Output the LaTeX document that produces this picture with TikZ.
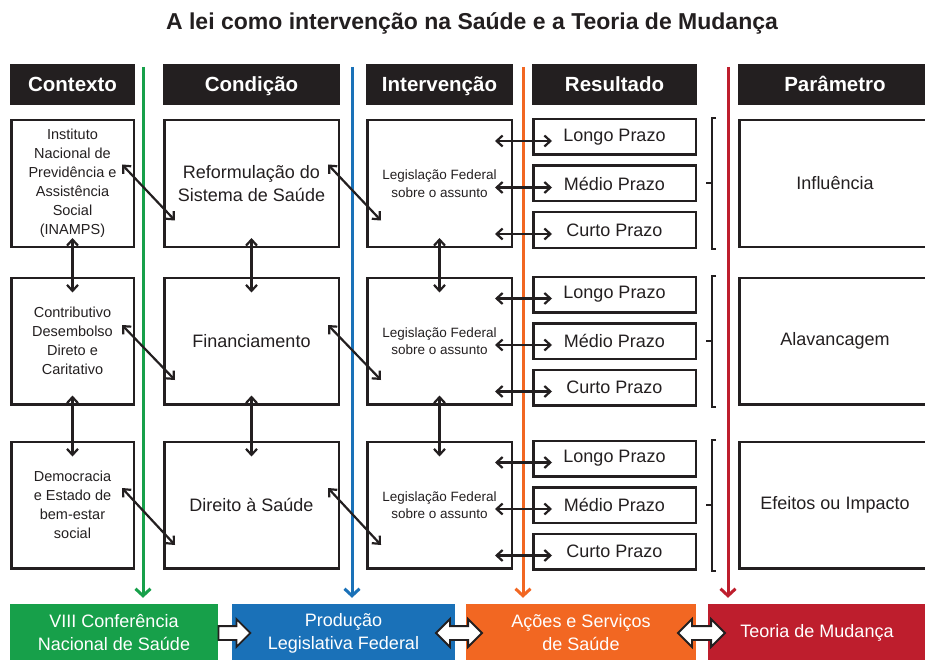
\documentclass[tikz,border=0pt]{standalone}
\usepackage{fontspec}
\setmainfont{Liberation Sans}
\usetikzlibrary{arrows.meta,calc,shapes.arrows}
\definecolor{barblack}{HTML}{231F20}
\definecolor{cgreen}{HTML}{17A04A}
\definecolor{cblue}{HTML}{1A71B8}
\definecolor{corange}{HTML}{F26722}
\definecolor{cred}{HTML}{BE1E2D}

\begin{document}
\begin{tikzpicture}[x=1pt,y=-1pt,>={Straight Barb[length=6pt,width=11pt]},
  hdr/.style={fill=barblack,text=white,font=\bfseries\fontsize{20.5}{24}\selectfont,minimum height=41pt,inner sep=0pt,text height=17pt,text depth=3pt},
  box/.style={draw=barblack,line width=2.5pt,minimum height=126.5pt,inner sep=0pt,align=center,text=barblack},
  ctxbox/.style={box,minimum width=122.5pt,font=\fontsize{14.5}{19}\selectfont},
  condbox/.style={box,minimum width=174.5pt,font=\fontsize{18}{23}\selectfont},
  intbox/.style={box,minimum width=144.5pt,font=\fontsize{13.5}{17.5}\selectfont},
  parbox/.style={box,minimum width=191.5pt,font=\fontsize{18}{23}\selectfont},
  res/.style={draw=barblack,line width=2.5pt,minimum width=162.5pt,minimum height=35.5pt,inner sep=0pt,text=barblack,font=\fontsize{18}{22}\selectfont},
  arw/.style={barblack,line width=2.2pt},
  brk/.style={draw=barblack,line width=2pt},
  vline/.style={line width=3pt,-{Straight Barb[length=7pt,width=15pt]},shorten >=6pt},
  foot/.style={minimum height=58pt,inner sep=0pt,align=center,text=white,font=\fontsize{18}{23}\selectfont},
  blk/.style={draw=barblack,fill=white,line width=1.8pt,inner xsep=0pt,inner ysep=6pt,single arrow head extend=7pt,double arrow head extend=7pt}]
  \useasboundingbox (0,0) rectangle (925,660);

  \node[font=\bfseries\fontsize{23}{27}\selectfont,text=barblack] (ttl) at (472,23) {A lei como intervenção na Saúde e a Teoria de Mudança};

  \node[hdr,minimum width=125pt] (hctx) at (72.5,84.5) {Contexto};
  \node[hdr,minimum width=177pt] (hcond) at (251.5,84.5) {Condição};
  \node[hdr,minimum width=147pt] (hint) at (439.5,84.5) {Intervenção};
  \node[hdr,minimum width=165pt] (hres) at (614.5,84.5) {Resultado};
  \node[hdr,minimum width=194pt] (hpar) at (835,84.5) {Parâmetro};

  \node[foot,fill=cgreen,minimum width=208pt] (foot1) at (114,633) {VIII Conferência\\Nacional de Saúde};
  \node[foot,fill=cblue,minimum width=223pt] (foot2) at (343.5,633) {Produção\\Legislativa Federal};
  \node[foot,fill=corange,minimum width=230pt] (foot3) at (581,633) {Ações e Serviços\\de Saúde};
  \node[foot,fill=cred,minimum width=218pt] (foot4) at (817,633) {Teoria de Mudança};

  \coordinate (gtop) at (143,67);
  \coordinate (btop) at (352,67);
  \coordinate (otop) at (523,67);
  \coordinate (rtop) at (728,67);
  \draw[vline,cgreen] (gtop) -- (gtop |- foot1.north);
  \draw[vline,cblue] (btop) -- (btop |- foot2.north);
  \draw[vline,corange] (otop) -- (otop |- foot3.north);
  \draw[vline,cred] (rtop) -- (rtop |- foot4.north);

  \node[ctxbox] (ctx1) [below of=hctx,node distance=99pt] {Instituto\\Nacional de\\Previdência e\\Assistência\\Social\\(INAMPS)};
  \node[ctxbox] (ctx2) [below of=ctx1,node distance=157.5pt] {Contributivo\\Desembolso\\Direto e\\Caritativo};
  \node[ctxbox] (ctx3) [below of=ctx2,node distance=164pt] {Democracia\\e Estado de\\bem-estar\\social};

  \node[condbox] (cond1) [below of=hcond,node distance=99pt] {Reformulação do\\Sistema de Saúde};
  \node[condbox] (cond2) [below of=cond1,node distance=157.5pt] {Financiamento};
  \node[condbox] (cond3) [below of=cond2,node distance=164pt] {Direito à Saúde};

  \node[intbox] (int1) [below of=hint,node distance=99pt] {Legislação Federal\\sobre o assunto};
  \node[intbox] (int2) [below of=int1,node distance=157.5pt] {Legislação Federal\\sobre o assunto};
  \node[intbox] (int3) [below of=int2,node distance=164pt] {Legislação Federal\\sobre o assunto};

  \node[parbox] (par1) [below of=hpar,node distance=99pt] {Influência};
  \node[parbox] (par2) [below of=par1,node distance=157.5pt] {Alavancagem};
  \node[parbox] (par3) [below of=par2,node distance=164pt] {Efeitos ou Impacto};

  \node[res] (r1m) [right of=int1,node distance=175pt] {Médio Prazo};
  \node[res] (r1l) [above of=r1m,node distance=46.5pt] {Longo Prazo};
  \node[res] (r1c) [below of=r1m,node distance=46.5pt] {Curto Prazo};
  \node[res] (r2m) [right of=int2,node distance=175pt] {Médio Prazo};
  \node[res] (r2l) [above of=r2m,node distance=46.5pt] {Longo Prazo};
  \node[res] (r2c) [below of=r2m,node distance=46.5pt] {Curto Prazo};
  \node[res] (r3m) [right of=int3,node distance=175pt] {Médio Prazo};
  \node[res] (r3l) [above of=r3m,node distance=46.5pt] {Longo Prazo};
  \node[res] (r3c) [below of=r3m,node distance=46.5pt] {Curto Prazo};

  \path[<->,arw]
        ($(ctx1.east)+(-13,-19)$) edge ($(cond1.west)+(12,37)$)
        ($(cond1.east)+(-12,-19)$) edge ($(int1.west)+(15,37)$)
        ($(ctx2.east)+(-13,-16)$) edge ($(cond2.west)+(12,39)$)
        ($(cond2.east)+(-12,-16)$) edge ($(int2.west)+(15,39)$)
        ($(ctx3.east)+(-13,-17)$) edge ($(cond3.west)+(12,40)$)
        ($(cond3.east)+(-12,-17)$) edge ($(int3.west)+(15,40)$)
        ($(ctx1.south)+(0,-10)$) edge ($(ctx2.north)+(0,16)$)
        ($(ctx2.south)+(0,-10)$) edge ($(ctx3.north)+(0,16)$)
        ($(cond1.south)+(0,-10)$) edge ($(cond2.north)+(0,16)$)
        ($(cond2.south)+(0,-10)$) edge ($(cond3.north)+(0,16)$)
        ($(int1.south)+(0,-10)$) edge ($(int2.north)+(0,16)$)
        ($(int2.south)+(0,-10)$) edge ($(int3.north)+(0,16)$)
        ($(int1.east |- r1l.west)+(-18,4)$) edge ($(r1l.west)+(20,4)$)
        ($(int1.east |- r1m.west)+(-18,4)$) edge ($(r1m.west)+(20,4)$)
        ($(int1.east |- r1c.west)+(-18,4)$) edge ($(r1c.west)+(20,4)$)
        ($(int2.east |- r2l.west)+(-18,4)$) edge ($(r2l.west)+(20,4)$)
        ($(int2.east |- r2m.west)+(-18,4)$) edge ($(r2m.west)+(20,4)$)
        ($(int2.east |- r2c.west)+(-18,4)$) edge ($(r2c.west)+(20,4)$)
        ($(int3.east |- r3l.west)+(-18,4)$) edge ($(r3l.west)+(20,4)$)
        ($(int3.east |- r3m.west)+(-18,4)$) edge ($(r3m.west)+(20,4)$)
        ($(int3.east |- r3c.west)+(-18,4)$) edge ($(r3c.west)+(20,4)$);

  \draw[brk] ($(r1l.north east)+(19,0)$) -- ++(-4,0) |- ($(r1c.south east)+(19,0)$);
  \draw[brk] ($(r1m.east)+(15,0)$) -- ++(-6,0);
  \draw[brk] ($(r2l.north east)+(19,0)$) -- ++(-4,0) |- ($(r2c.south east)+(19,0)$);
  \draw[brk] ($(r2m.east)+(15,0)$) -- ++(-6,0);
  \draw[brk] ($(r3l.north east)+(19,0)$) -- ++(-4,0) |- ($(r3c.south east)+(19,0)$);
  \draw[brk] ($(r3m.east)+(15,0)$) -- ++(-6,0);

  \node[blk,single arrow,minimum height=32pt] (a12) at (231,633) {};
  \node[blk,double arrow,minimum height=46pt] (a23) at (459,633) {};
  \node[blk,double arrow,minimum height=47pt] (a34) at (701.5,633) {};
\end{tikzpicture}
\end{document}
